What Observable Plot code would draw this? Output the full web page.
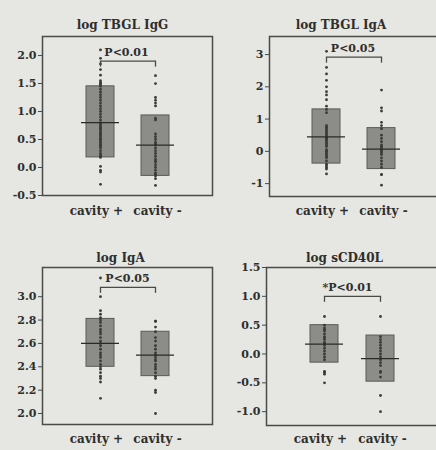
<!DOCTYPE html>
<html><head><meta charset="utf-8">
<script src="https://cdn.jsdelivr.net/npm/d3@7"></script>
<script src="https://cdn.jsdelivr.net/npm/@observablehq/plot@0.6"></script>
<style>
html,body{margin:0;padding:0;background:#e6e6e2;overflow:hidden;}
#wrap{position:relative;width:436px;height:450px;overflow:hidden;background:#e6e6e2;}
.panel{position:absolute;}
.panel svg{max-width:none !important;}
</style></head><body><div id="wrap"></div>
<script>
// ---- data ----
const groups = ["cavity +", "cavity -"];
const titles = ["log TBGL IgG", "log TBGL IgA", "log IgA", "log sCD40L"];
const pLabels = ["P<0.01", "P<0.05", "P<0.05", "*P<0.01"];
const bracketLevels = [1.9, 2.92, 3.08, 1.0];

const ticksIgG = [-0.5, 0, 0.5, 1.0, 1.5, 2.0];
const ticksTbglIgA = [-1, 0, 1, 2, 3];
const ticksIgA = [2.0, 2.2, 2.4, 2.6, 2.8, 3.0];
const ticksCD40L = [-1.0, -0.5, 0, 0.5, 1.0, 1.5];

// box statistics [cavity +, cavity -]
const q1 = [[0.18, -0.15], [-0.38, -0.55], [2.40, 2.32], [-0.15, -0.48]];
const medians = [[0.80, 0.40], [0.45, 0.07], [2.60, 2.50], [0.17, -0.08]];
const q3 = [[1.45, 0.93], [1.30, 0.72], [2.81, 2.70], [0.50, 0.32]];

// individual points
const tbglIgGPos = [2.1, 1.95, 1.85, 1.75, 1.65, 1.55, 1.52, 1.5, 1.48, 1.45, 1.4, 1.35, 1.3, 1.25, 1.2, 1.15, 1.1, 1.05, 1.0, 0.95, 0.9, 0.85, 0.8, 0.78, 0.75, 0.72, 0.7, 0.68, 0.65, 0.62, 0.6, 0.58, 0.55, 0.52, 0.5, 0.48, 0.45, 0.42, 0.4, 0.38, 0.35, 0.3, 0.25, 0.22, 0.2, 0.18, 0.02, -0.05, -0.08, -0.3];
const tbglIgGNeg = [1.64, 1.5, 1.25, 1.2, 1.15, 1.1, 0.88, 0.85, 0.6, 0.55, 0.5, 0.45, 0.42, 0.4, 0.35, 0.3, 0.25, 0.2, 0.15, 0.12, 0.1, 0.05, 0.0, -0.05, -0.1, -0.12, -0.15, -0.2, -0.32];
const tbglIgAPos = [3.1, 2.6, 2.4, 2.2, 2.0, 1.85, 1.75, 1.6, 1.4, 1.3, 1.2, 0.8, 0.75, 0.7, 0.65, 0.6, 0.55, 0.5, 0.45, 0.42, 0.4, 0.38, 0.35, 0.3, 0.25, 0.2, 0.15, 0.05, 0.0, 0.0, -0.05, -0.1, -0.15, -0.2, -0.3, -0.4, -0.45, -0.5, -0.55, -0.7];
const tbglIgANeg = [1.9, 1.35, 1.25, 0.9, 0.8, 0.7, 0.5, 0.4, 0.3, 0.2, 0.15, 0.1, 0.05, 0.0, -0.05, -0.1, -0.2, -0.3, -0.4, -0.5, -0.72, -0.72, -1.05];
const igAPos = [3.16, 3.0, 2.88, 2.85, 2.82, 2.8, 2.78, 2.75, 2.72, 2.7, 2.68, 2.65, 2.62, 2.6, 2.58, 2.55, 2.52, 2.5, 2.48, 2.45, 2.42, 2.4, 2.38, 2.35, 2.32, 2.3, 2.27, 2.13];
const igANeg = [2.79, 2.79, 2.74, 2.7, 2.65, 2.62, 2.58, 2.55, 2.52, 2.5, 2.48, 2.46, 2.45, 2.42, 2.4, 2.38, 2.35, 2.32, 2.3, 2.2, 2.18, 2.0];
const cd40lPos = [0.65, 0.5, 0.45, 0.42, 0.4, 0.35, 0.3, 0.28, 0.25, 0.2, 0.18, 0.15, 0.1, 0.05, 0.0, -0.05, -0.1, -0.3, -0.32, -0.35, -0.5];
const cd40lNeg = [0.65, 0.3, 0.25, 0.2, 0.15, 0.1, 0.05, 0.0, -0.05, -0.1, -0.15, -0.2, -0.3, -0.32, -0.4, -0.72, -1.0];

// ---- layout ----
const layout = [
  {left: 0, top: 0, w: 218, ml: 42, mr: 6, mt: 36, mb: 30, dom: [-0.5, 2.34], ticks: ticksIgG, fmt: d => d.toFixed(1), pts: [tbglIgGPos, tbglIgGNeg], tdx: -5, tdy: -16, pdx: -1, xpad: 11},
  {left: 218, top: 0, w: 222, ml: 51, mr: 2, mt: 36, mb: 29, dom: [-1.4, 3.56], ticks: ticksTbglIgA, fmt: d => String(d), pts: [tbglIgAPos, tbglIgANeg], tdx: -13, tdy: -16, pdx: -1, xpad: 10},
  {left: 0, top: 225, w: 218, ml: 42, mr: 6, mt: 42, mb: 26, dom: [1.906, 3.25], ticks: ticksIgA, fmt: d => d.toFixed(1), pts: [igAPos, igANeg], tdx: -7, tdy: -14, pdx: 0, xpad: 10},
  {left: 218, top: 225, w: 222, ml: 48, mr: 2, mt: 42, mb: 25, dom: [-1.24, 1.5], ticks: ticksCD40L, fmt: d => d.toFixed(1), pts: [cd40lPos, cd40lNeg], tdx: -8, tdy: -14, pdx: -5, xpad: 9}
];

const ink = "#2e2e2c";
const font = "DejaVu Serif";

layout.forEach((cfg, i) => {
  const pts = [];
  cfg.pts.forEach((arr, j) => arr.forEach(v => pts.push({g: groups[j], v})));
  const boxes = groups.map((g, j) => ({g, q1: q1[i][j], med: medians[i][j], q3: q3[i][j]}));
  const br = [{a: groups[0], b: groups[1], y: bracketLevels[i]}];
  const ends = groups.map(g => ({g, y: bracketLevels[i]}));
  const svg = Plot.plot({
    width: cfg.w, height: 225,
    marginLeft: cfg.ml, marginRight: cfg.mr, marginTop: cfg.mt, marginBottom: cfg.mb,
    style: {background: "transparent", fontFamily: font, fontWeight: "bold", color: ink, overflow: "visible", maxWidth: "none"},
    x: {type: "band", domain: groups, paddingInner: 0.5, paddingOuter: 0.77, axis: null},
    y: {domain: cfg.dom, axis: null},
    marks: [
      Plot.barY(boxes, {x: "g", y1: "q1", y2: "q3", fill: "#8c8c88", stroke: "#5a5a56", strokeWidth: 1}),
      Plot.dot(pts, {x: "g", y: "v", r: 1.4, fill: "#3a3a38", stroke: null}),
      Plot.tickY(boxes, {x: "g", y: "med", stroke: "#2a2a28", strokeWidth: 1.3, insetLeft: -5, insetRight: -5}),
      Plot.link(br, {x1: "a", x2: "b", y1: "y", y2: "y", stroke: "#4a4a48", strokeWidth: 1.3}),
      Plot.ruleX(ends, {x: "g", y1: "y", y2: "y", insetTop: 0, insetBottom: -6, stroke: "#4a4a48", strokeWidth: 1.3}),
      Plot.text([pLabels[i]], {y: () => bracketLevels[i], dx: cfg.pdx, dy: -9, fontSize: 11, fontWeight: "bold", fill: ink}),
      Plot.text([titles[i]], {frameAnchor: "top", dx: cfg.tdx, dy: cfg.tdy, fontSize: 12, fontWeight: "bold", fill: ink}),
      Plot.axisY(cfg.ticks, {tickSize: 4, tickPadding: 2, tickFormat: cfg.fmt, fontSize: 11, fontWeight: "bold", stroke: "#4a4a48"}),
      Plot.axisX([groups[0]], {tickSize: 0, tickPadding: cfg.xpad, dx: -4, fontSize: 12, fontWeight: "bold"}),
      Plot.axisX([groups[1]], {tickSize: 0, tickPadding: cfg.xpad, dx: 2, fontSize: 12, fontWeight: "bold"}),
      Plot.frame({stroke: "#4a4a48", strokeWidth: 1.5})
    ]
  });
  svg.style.maxWidth = "none";
  const div = document.createElement("div");
  div.className = "panel";
  div.style.left = cfg.left + "px";
  div.style.top = cfg.top + "px";
  div.style.width = cfg.w + "px";
  div.appendChild(svg);
  document.getElementById("wrap").appendChild(div);
});
</script></body></html>
